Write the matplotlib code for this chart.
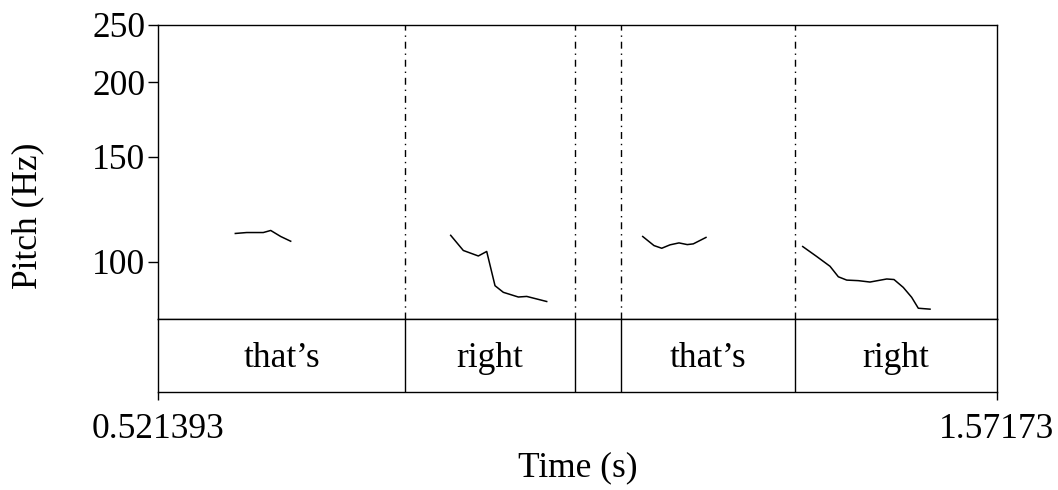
import matplotlib
matplotlib.use("Agg")
import matplotlib.pyplot as plt
import numpy as np

plt.rcParams['font.family'] = ['Liberation Serif', 'DejaVu Serif']

# time range of the selection (s) and pitch range (Hz)
t_start, t_end = 0.521393, 1.57173
f_min, f_max = 80, 250
pitch_ticks = [100, 150, 200, 250]

# word tier: interval boundaries and labels
boundaries = [0.8306, 1.0438, 1.1006, 1.3188]
words = ["that\u2019s", "right", "", "that\u2019s", "right"]

# pitch contour pieces (voiced stretches)
seg1_t = [0.6182, 0.6324, 0.6532, 0.6625, 0.6750, 0.6875]
seg1_f = [111.5, 111.9, 111.9, 112.8, 110.2, 108.2]
seg2_t = [0.8878, 0.9036, 0.9224, 0.9329, 0.9433, 0.9537, 0.9725, 0.9830, 1.0080]
seg2_f = [110.7, 104.4, 102.2, 104.0, 91.1, 88.8, 87.2, 87.4, 85.7]
seg3_t = [1.1282, 1.1423, 1.1520, 1.1624, 1.1736, 1.1840, 1.1915, 1.2074]
seg3_f = [110.2, 106.4, 105.3, 106.7, 107.5, 106.8, 107.1, 109.8]
seg4_t = [1.3285, 1.3460, 1.3627, 1.3731, 1.3836, 1.3981, 1.4127, 1.4337,
          1.4428, 1.4544, 1.4649, 1.4732, 1.4879]
seg4_f = [106.0, 102.0, 98.2, 94.3, 93.1, 92.9, 92.4, 93.5, 93.3, 90.5,
          87.1, 83.5, 83.2]

W, H = 1058, 490
fig = plt.figure(figsize=(W / 100, H / 100), dpi=100)

left, right = 158, 997
top, mid, bottom = 24.7, 319.3, 392.5
ax = fig.add_axes([left / W, 1 - mid / H, (right - left) / W, (mid - top) / H])
tier = fig.add_axes([left / W, 1 - bottom / H, (right - left) / W, (bottom - mid) / H])

fs = 25.5
lw = 1.0

# --- pitch panel
for t, f in [(seg1_t, seg1_f), (seg2_t, seg2_f), (seg3_t, seg3_f), (seg4_t, seg4_f)]:
    ax.plot(t, f, color='black', lw=1.1)

for b in boundaries:
    ax.axvline(b, color='black', lw=1.0, linestyle=(0, (5, 3.5, 1, 3.5)))

ax.set_yscale('log')
ax.set_xlim(t_start, t_end)
ax.set_ylim(f_min, f_max)
ax.yaxis.set_minor_locator(matplotlib.ticker.NullLocator())
ax.set_yticks(pitch_ticks)
ax.set_yticklabels([str(v) for v in pitch_ticks])
ax.tick_params(axis='y', length=7.2, width=lw, pad=2, labelsize=fs, direction='out')
ax.set_xticks([])
for s in ax.spines.values():
    s.set_linewidth(lw)

# --- word tier
for b in boundaries:
    tier.axvline(b, color='black', lw=1.0)
edges = [t_start] + boundaries + [t_end]
for i, w in enumerate(words):
    if w:
        tier.text((edges[i] + edges[i + 1]) / 2, 0.47, w, ha='center', va='center',
                  fontsize=fs)
tier.set_xlim(t_start, t_end)
tier.set_ylim(0, 1)
tier.set_yticks([])
tier.set_xticks([t_start, t_end])
tier.set_xticklabels(['0.521393', '1.57173'])
tier.tick_params(axis='x', length=6, width=lw, pad=9, labelsize=fs, direction='out')
for s in tier.spines.values():
    s.set_linewidth(lw)

fig.text(577.5 / W, 1 - 468 / H, 'Time (s)', ha='center', va='center', fontsize=fs)
fig.text(28 / W, 1 - 216 / H, 'Pitch (Hz)', ha='center', va='center', fontsize=fs,
         rotation=90)

fig.savefig('out.png', dpi=100)
